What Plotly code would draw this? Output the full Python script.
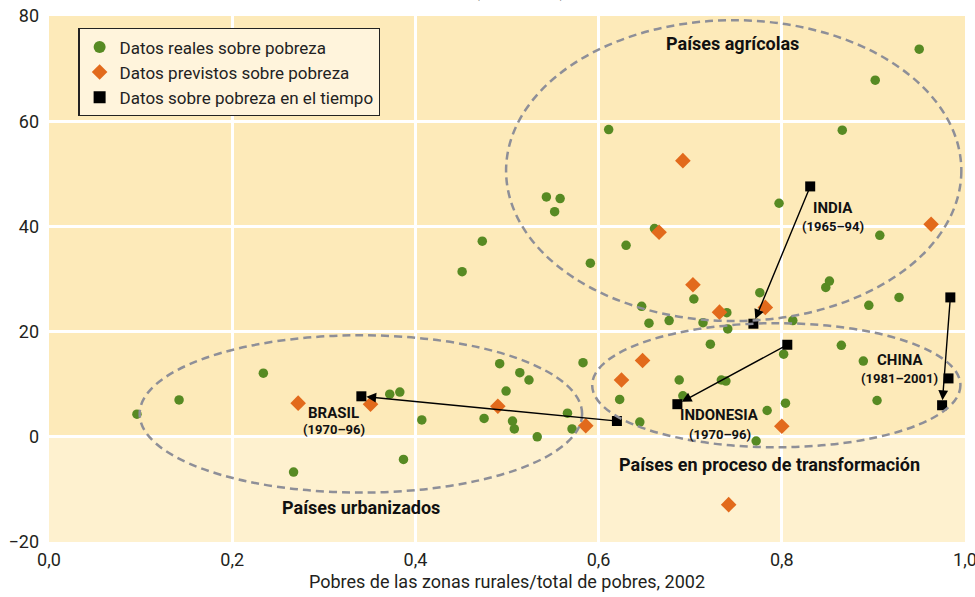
import plotly.graph_objects as go

# ---------------- data ----------------
real_x = [0.096, 0.142, 0.234, 0.267, 0.372, 0.383, 0.387, 0.407, 0.451, 0.473,
          0.475, 0.492, 0.499, 0.506, 0.508, 0.514, 0.524, 0.533, 0.543, 0.552,
          0.558, 0.566, 0.571, 0.583, 0.591, 0.611, 0.623, 0.630, 0.645, 0.647,
          0.655, 0.661, 0.677, 0.688, 0.692, 0.704, 0.714, 0.722, 0.734, 0.739,
          0.740, 0.741, 0.772, 0.776, 0.784, 0.797, 0.802, 0.804, 0.812, 0.848,
          0.852, 0.865, 0.866, 0.889, 0.895, 0.902, 0.904, 0.907, 0.928, 0.950]
real_y = [4.3, 7.0, 12.1, -6.7, 8.1, 8.5, -4.3, 3.2, 31.4, 37.2,
          3.5, 13.9, 8.7, 3.0, 1.5, 12.2, 10.8, 0.0, 45.6, 42.8,
          45.3, 4.5, 1.5, 14.1, 33.0, 58.4, 7.1, 36.4, 2.8, 24.8,
          21.6, 39.6, 22.1, 10.8, 7.8, 26.2, 21.7, 17.6, 10.8, 10.6,
          23.6, 20.5, -0.8, 27.4, 5.0, 44.4, 15.7, 6.4, 22.1, 28.4,
          29.6, 17.4, 58.3, 14.4, 25.0, 67.8, 6.9, 38.3, 26.5, 73.7]

pred_x = [0.272, 0.351, 0.490, 0.586, 0.625, 0.648, 0.666, 0.692, 0.703, 0.732,
          0.742, 0.782, 0.800, 0.963]
pred_y = [6.4, 6.2, 5.8, 2.1, 10.8, 14.5, 38.9, 52.5, 28.9, 23.7,
          -12.9, 24.6, 2.0, 40.4]

# poverty over time (first year -> last year)
brasil_x, brasil_y = [0.620, 0.341], [3.0, 7.7]
india_x, india_y = [0.831, 0.769], [47.6, 21.5]
indonesia_x, indonesia_y = [0.806, 0.686], [17.5, 6.2]
china_x, china_y = [0.984, 0.982, 0.975], [26.5, 11.1, 6.0]

series_time = [
    ("BRASIL", "(1970–96)", brasil_x, brasil_y, (0.311, 4.6), (0.311, 1.3)),
    ("INDIA", "(1965–94)", india_x, india_y, (0.856, 43.5), (0.856, 40.0)),
    ("INDONESIA", "(1970–96)", indonesia_x, indonesia_y, (0.732, 4.1), (0.732, 0.5)),
    ("CHINA", "(1981–2001)", china_x, china_y, (0.930, 14.6), (0.928, 11.05)),
]

# grouping ellipses: (x0, x1, y0, y1), label, label position
groups = [
    ((0.499, 0.996, 22.0, 79.2), "Países agrícolas", (0.746, 74.8)),
    ((0.099, 0.582, -10.6, 19.3), "Países urbanizados", (0.341, -13.4)),
    ((0.593, 0.995, -2.0, 21.6), "Países en proceso de transformación", (0.787, -5.2)),
]

x_ticks = [0.0, 0.2, 0.4, 0.6, 0.8, 1.0]
y_ticks = [-20, 0, 20, 40, 60, 80]

FONT = "Roboto, Arial, sans-serif"
GREEN = "#578a23"
ORANGE = "#e26a1c"
BG_TOP = "#fdeab9"
BG_BOT = "#fef1cf"

fig = go.Figure()

fig.add_trace(go.Scatter(x=real_x, y=real_y, mode="markers",
                         name="Datos reales sobre pobreza",
                         marker=dict(symbol="circle", size=9.5, color=GREEN)))
fig.add_trace(go.Scatter(x=pred_x, y=pred_y, mode="markers",
                         name="Datos previstos sobre pobreza",
                         marker=dict(symbol="diamond", size=12, color=ORANGE)))

tx, ty = [], []
for _, _, xs, ys, _, _ in series_time:
    tx += xs
    ty += ys
fig.add_trace(go.Scatter(x=tx, y=ty, mode="markers",
                         name="Datos sobre pobreza en el tiempo",
                         marker=dict(symbol="square", size=10, color="black")))

shapes = [dict(type="rect", xref="paper", yref="y", x0=0, x1=1, y0=-20, y1=0,
               fillcolor=BG_BOT, line=dict(width=0), layer="below")]
annotations = []

for (x0, x1, y0, y1), label, (lx, ly) in groups:
    shapes.append(dict(type="circle", xref="x", yref="y", x0=x0, x1=x1, y0=y0, y1=y1,
                       line=dict(color="#8e8f98", width=2.5, dash="8px,5px"), layer="above"))
    annotations.append(dict(x=lx, y=ly, xref="x", yref="y", text=f"<b>{label}</b>",
                            showarrow=False, font=dict(family=FONT, size=18, color="#111")))

for name, years, xs, ys, p1, p2 in series_time:
    annotations.append(dict(x=xs[-1], y=ys[-1], ax=xs[0], ay=ys[0], xref="x", yref="y",
                            axref="x", ayref="y", text="", showarrow=True,
                            arrowhead=2, arrowsize=1.4, arrowwidth=1.4,
                            arrowcolor="black", standoff=5))
    annotations.append(dict(x=p1[0], y=p1[1], xref="x", yref="y", text=f"<b>{name}</b>",
                            showarrow=False, font=dict(family=FONT, size=15, color="#111")))
    annotations.append(dict(x=p2[0], y=p2[1], xref="x", yref="y", text=f"<b>{years}</b>",
                            showarrow=False, font=dict(family=FONT, size=13, color="#111")))

# axis caption cut off at the very top of the picture (as in the original)
annotations.append(dict(x=0.514, y=1, xref="paper", yref="paper", yanchor="bottom",
                        yshift=13, text="(porcentaje)", showarrow=False,
                        font=dict(family=FONT, size=17, color="#222")))

fig.update_layout(
    width=975, height=597,
    margin=dict(l=49, r=10, t=16, b=55, autoexpand=False),
    paper_bgcolor="white", plot_bgcolor=BG_TOP,
    separators=", ",
    font=dict(family=FONT, size=18, color="#231f20"),
    shapes=shapes, annotations=annotations,
    showlegend=True,
    legend=dict(x=0.032, y=0.977, xanchor="left", yanchor="top",
                bgcolor="#fff4dc", bordercolor="#222", borderwidth=1.3,
                font=dict(family=FONT, size=17, color="#222"),
                tracegroupgap=0, itemsizing="constant"),
)
fig.update_xaxes(range=[0, 1], tickvals=x_ticks, tickformat=".1f",
                 showgrid=True, gridcolor="white", gridwidth=2.5, zeroline=False,
                 showline=False, ticks="", ticklabelstandoff=5,
                 ticklabeloverflow="allow", automargin=False,
                 title=dict(text="Pobres de las zonas rurales/total de pobres, 2002",
                            font=dict(family=FONT, size=18), standoff=6))
fig.update_yaxes(range=[-20, 80], tickvals=y_ticks,
                 showgrid=True, gridcolor="white", gridwidth=2.5, zeroline=True,
                 zerolinecolor="white", zerolinewidth=2.5, automargin=False,
                 showline=False, ticks="", ticklabelstandoff=9,
                 ticklabeloverflow="allow")

fig.write_html("out.html", config={"displayModeBar": False},
               post_script="document.body.style.margin='0';document.body.style.overflow='hidden';")
